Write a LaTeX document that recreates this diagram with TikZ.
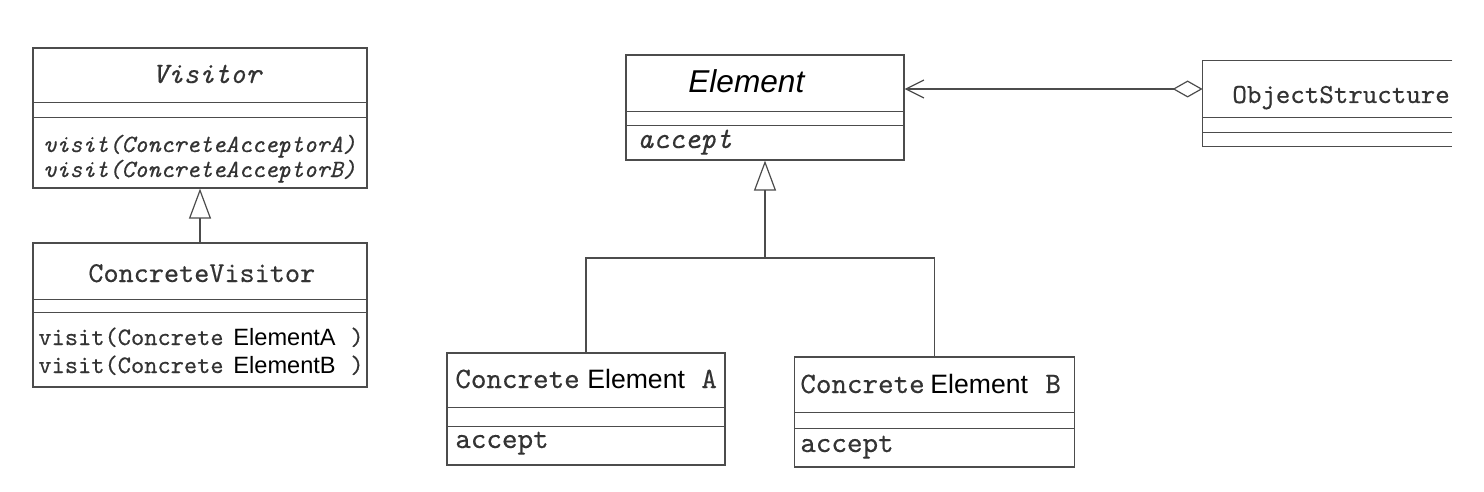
\documentclass[tikz,border=0pt]{standalone}
\usepackage{fontspec}
\setmonofont{lmmono10-regular.otf}[ItalicFont=lmmono10-italic.otf, FakeBold=0.4]
\newfontfamily\pastefont{Liberation Sans}
\usetikzlibrary{arrows.meta}

\colorlet{scan}{black!70}
\colorlet{ink}{black!80}

\tikzset{
  classbox/.style={draw=scan, line width=0.6pt, rectangle, inner sep=0pt},
  partline/.style={draw=scan, line width=0.6pt},
  inherit/.style={draw=scan, line width=0.6pt, -{Triangle[open, length=15pt, width=11pt]}},
  aggregate/.style={draw=scan, line width=0.6pt, {Diamond[open, length=15pt, width=8.5pt]}-{Straight Barb[length=9pt, width=9pt]}},
  tttext/.style={font=\ttfamily\fontsize{#1}{#1}\selectfont, text=ink, inner sep=0pt, anchor=base west},
  pasted/.style={font=\pastefont\fontsize{#1}{#1}\selectfont, text=black, inner sep=0pt, anchor=base west}
}

\begin{document}
\begin{tikzpicture}[x=0.5pt, y=-0.5pt]
\useasboundingbox (0,0) rectangle (1484,492);

% visitor side
\node[classbox, minimum width=167pt, minimum height=70pt] (visitor) at (200,118) {};
\draw[partline] ([yshift=-27.5pt]visitor.north west) -- ([yshift=-27.5pt]visitor.north east);
\draw[partline] ([yshift=-35pt]visitor.north west) -- ([yshift=-35pt]visitor.north east);
\node[tttext=14.8] (visitorname) at (152,83) {\itshape Visitor};
\node[tttext=12.4] (visitA) at (43,152) {\itshape visit(ConcreteAcceptorA)};
\node[tttext=12.4] (visitB) at (43,177) {\itshape visit(ConcreteAcceptorB)};

\node[classbox, minimum width=167pt, minimum height=72pt] (cvisitor) at (200,315) {};
\draw[partline] ([yshift=-28.5pt]cvisitor.north west) -- ([yshift=-28.5pt]cvisitor.north east);
\draw[partline] ([yshift=-35pt]cvisitor.north west) -- ([yshift=-35pt]cvisitor.north east);
\node[tttext=14.4] (cvname) at (88,282) {ConcreteVisitor};
\node[tttext=12.6] (cvA) at (38,345) {visit(Concrete};
\node[pasted=11.8] (cvAel) at (233,345) {ElementA};
\node[tttext=12.6] (cvAend) at (350,345) {)};
\node[tttext=12.6] (cvB) at (38,373) {visit(Concrete};
\node[pasted=11.8] (cvBel) at (233,373) {ElementB};
\node[tttext=12.6] (cvBend) at (350,373) {)};

\draw[inherit] (cvisitor.north) -- (visitor.south);

% element side
\node[classbox, minimum width=139pt, minimum height=52.5pt] (element) at (765,107.5) {};
\draw[partline] ([yshift=-28.5pt]element.north west) -- ([yshift=-28.5pt]element.north east);
\draw[partline] ([yshift=-35.5pt]element.north west) -- ([yshift=-35.5pt]element.north east);
\node[pasted=15.8] (elname) at (688,93) {\itshape Element};
\node[tttext=15] (elaccept) at (637,148) {\itshape accept};

\node[classbox, minimum width=139pt, minimum height=56pt] (ceA) at (586,409) {};
\draw[partline] ([yshift=-27.5pt]ceA.north west) -- ([yshift=-27.5pt]ceA.north east);
\draw[partline] ([yshift=-37pt]ceA.north west) -- ([yshift=-37pt]ceA.north east);
\node[tttext=14.8] (ceAname) at (455,388) {Concrete};
\node[pasted=13.3] (ceAel) at (587,388) {Element};
\node[tttext=14.8] (ceAlet) at (701,388) {A};
\node[tttext=14.8] (ceAaccept) at (455,448) {accept};

\node[classbox, minimum width=140pt, minimum height=55pt] (ceB) at (934.5,412) {};
\draw[partline] ([yshift=-28pt]ceB.north west) -- ([yshift=-28pt]ceB.north east);
\draw[partline] ([yshift=-36pt]ceB.north west) -- ([yshift=-36pt]ceB.north east);
\node[tttext=14.8] (ceBname) at (800,393) {Concrete};
\node[pasted=13.3] (ceBel) at (930,393) {Element};
\node[tttext=14.8] (ceBlet) at (1045,393) {B};
\node[tttext=14.8] (ceBaccept) at (800,452) {accept};

\coordinate (fork) at (765,258);
\draw[partline] (ceA.north) |- (fork);
\draw[partline] (ceB.north) |- (fork);
\draw[inherit] (fork) -- (element.south);

% object structure, cut at the right edge
\node[inner sep=0pt, minimum width=124.5pt, minimum height=28pt] (objstruct) at (1327.5,89) {};
\draw[partline] (objstruct.north east) -- (objstruct.north west) -- ([yshift=-14.5pt]objstruct.south west) -- ([yshift=-14.5pt]objstruct.south east);
\draw[partline] (objstruct.south west) -- (objstruct.south east);
\draw[partline] ([yshift=-7.5pt]objstruct.south west) -- ([yshift=-7.5pt]objstruct.south east);
\node[tttext=13.8] (osname) at (1232,103) {ObjectStructure};

\draw[aggregate] (objstruct.west) -- (objstruct.west -| element.east);
\end{tikzpicture}
\end{document}
